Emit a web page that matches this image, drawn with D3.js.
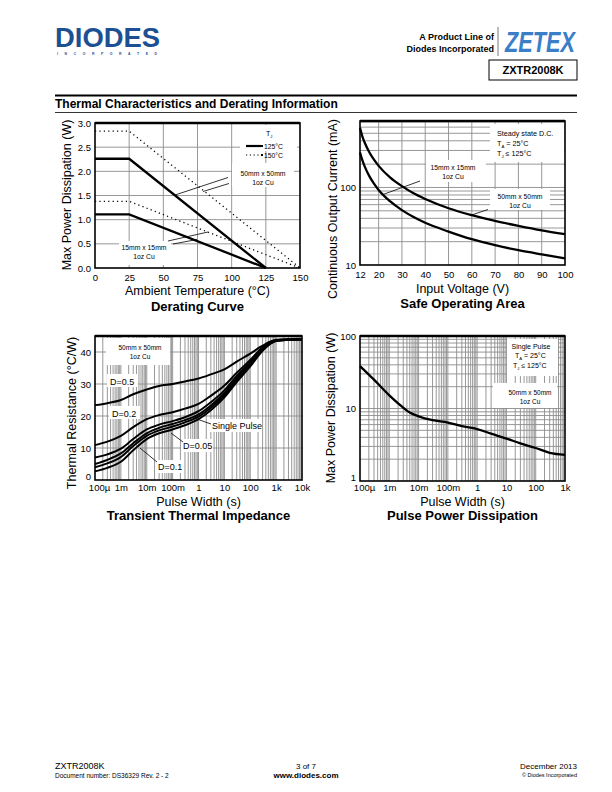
<!DOCTYPE html>
<html><head><meta charset="utf-8">
<script src="https://cdn.jsdelivr.net/npm/d3@7"></script>
<style>
body{margin:0;background:#fff}
svg{display:block}
text{font-family:"Liberation Sans",Arial,Helvetica,sans-serif;fill:#000}
</style>
</head><body>
<svg id="page" width="612" height="792"></svg>
<script>
// ---------------- DATA ----------------
// Derating curve
const derTemp125 = [0, 25, 125];
const derTemp150 = [0, 25, 150];
const der50x50_125 = [2.26, 2.26, 0];
const der50x50_150 = [2.83, 2.83, 0];
const der15x15_125 = [1.11, 1.11, 0];
const der15x15_150 = [1.38, 1.38, 0];
const derXTicks = [0, 25, 50, 75, 100, 125, 150];
const derYTicks = [0, 0.5, 1.0, 1.5, 2.0, 2.5, 3.0];

// Safe operating area
const soaVoltage = [12, 13, 14, 16, 18, 20, 25, 30, 35, 40, 50, 60, 70, 80, 90, 100];
const soa50x50 = [590, 456, 380, 285, 228, 190, 134, 104, 84, 71, 54, 44, 37, 32, 28, 25];
const soa15x15 = [283, 225, 187, 140, 112, 93, 66, 51, 41.5, 35, 27, 21.5, 18, 15.5, 13.7, 12.2];
const soaXTicks = [12, 20, 30, 40, 50, 60, 70, 80, 90, 100];
const soaYTicks = [10, 100];

// Transient thermal impedance
const ttiPulse = [1e-4, 3e-4, 1e-3, 3e-3, 1e-2, 3e-2, 1e-1, 3e-1, 1, 3, 10, 30, 100, 300, 1e3, 3e3, 1e4];
const ttiD05 = [23.4, 24.0, 25.0, 26.8, 28.3, 29.4, 30.0, 30.8, 31.7, 33.0, 34.6, 37.0, 39.5, 42.0, 43.8, 44.0, 44.1];
const ttiD02 = [10.9, 12.0, 13.8, 16.5, 19.0, 20.3, 21.2, 22.3, 23.8, 26.3, 29.5, 33.5, 37.5, 41.5, 43.7, 43.9, 44.0];
const ttiD01 = [7.0, 8.0, 9.8, 12.8, 15.8, 17.3, 18.4, 19.6, 21.5, 24.3, 28.0, 32.5, 36.8, 41.0, 43.6, 43.8, 44.0];
const ttiD005 = [5.0, 6.3, 8.3, 11.5, 14.6, 16.3, 17.5, 18.7, 20.5, 23.3, 27.2, 31.8, 36.3, 40.8, 43.5, 43.8, 44.0];
const ttiD002 = [4.0, 5.2, 7.2, 10.6, 13.8, 15.5, 16.7, 18.0, 19.8, 22.6, 26.5, 31.2, 35.9, 40.6, 43.5, 43.8, 44.0];
const ttiSingle = [2.7, 3.8, 5.7, 9.3, 12.8, 14.6, 15.8, 17.1, 19.0, 21.8, 25.8, 30.6, 35.5, 40.4, 43.4, 43.8, 44.0];
const ttiXTicks = [1e-4, 1e-3, 1e-2, 1e-1, 1, 10, 100, 1e3, 1e4];
const ttiXLabels = ["100µ", "1m", "10m", "100m", "1", "10", "100", "1k", "10k"];
const ttiYTicks = [0, 10, 20, 30, 40];

// Pulse power dissipation
const ppdPulse = [1e-4, 3e-4, 1e-3, 2e-3, 5e-3, 1e-2, 3e-2, 1e-1, 3e-1, 1, 3, 10, 30, 100, 300, 1e3];
const ppdPower = [38.5, 25, 15.2, 11.8, 8.8, 7.8, 6.9, 6.4, 5.7, 5.2, 4.5, 3.85, 3.3, 2.85, 2.45, 2.3];
const ppdXTicks = [1e-4, 1e-3, 1e-2, 1e-1, 1, 10, 100, 1e3];
const ppdXLabels = ["100µ", "1m", "10m", "100m", "1", "10", "100", "1k"];
const ppdYTicks = [1, 10, 100];

// ---------------- DRAWING ----------------
const svg = d3.select("#page");
const GRID = "#8c8c8c";
const FONT = '"Liberation Sans",Arial,sans-serif';

function logGrid(domain) {
  const out = [];
  const lo = Math.floor(Math.log10(domain[0])), hi = Math.ceil(Math.log10(domain[1]));
  for (let d = lo; d <= hi; d++) for (let k = 1; k <= 9; k++) {
    const v = k * Math.pow(10, d);
    if (v > domain[0] * 1.0001 && v < domain[1] * 0.9999) out.push(v);
  }
  return out;
}

function gridLines(g, x, y, xs, ys) {
  const [x0, x1] = x.range(), [y0, y1] = y.range();
  g.append("g").selectAll("line").data(xs).join("line")
    .attr("x1", d => x(d)).attr("x2", d => x(d)).attr("y1", y0).attr("y2", y1)
    .attr("stroke", GRID).attr("stroke-width", 0.9);
  g.append("g").selectAll("line").data(ys).join("line")
    .attr("x1", x0).attr("x2", x1).attr("y1", d => y(d)).attr("y2", d => y(d))
    .attr("stroke", GRID).attr("stroke-width", 0.9);
}

function whiteBox(g, x, y, w, h) {
  g.append("rect").attr("x", x).attr("y", y).attr("width", w).attr("height", h).attr("fill", "#fff");
}

function frame(g, x, y) {
  const [x0, x1] = x.range(), [y0, y1] = y.range();
  g.append("rect").attr("x", x0).attr("y", y1).attr("width", x1 - x0).attr("height", y0 - y1)
    .attr("fill", "none").attr("stroke", "#000").attr("stroke-width", 1.6);
  g.append("line").attr("x1", x0).attr("x2", x1).attr("y1", y1).attr("y2", y1)
    .attr("stroke", "#000").attr("stroke-width", 2.4);
}

function axes(g, x, y, xTicks, xFmt, yTicks, yFmt, xPad) {
  const ax = g.append("g").attr("transform", `translate(0,${y.range()[0]})`)
    .call(d3.axisBottom(x).tickValues(xTicks).tickSize(0).tickPadding(xPad || 6).tickFormat(xFmt));
  ax.select(".domain").remove();
  ax.selectAll("text").attr("font-size", 9.5).attr("font-family", FONT).attr("fill", "#000");
  const ay = g.append("g").attr("transform", `translate(${x.range()[0]},0)`)
    .call(d3.axisLeft(y).tickValues(yTicks).tickSize(0).tickPadding(4).tickFormat(yFmt));
  ay.select(".domain").remove();
  ay.selectAll("text").attr("font-size", 9.5).attr("font-family", FONT).attr("fill", "#000");
  return { ax, ay };
}

function titles(g, x, y, xt, yt, yx, yc, title, xtY, titleY) {
  const cx = (x.range()[0] + x.range()[1]) / 2;
  g.append("text").attr("x", cx).attr("y", xtY).attr("text-anchor", "middle").attr("font-size", 12.5).text(xt);
  g.append("text").attr("transform", `translate(${yx},${yc}) rotate(-90)`).attr("text-anchor", "middle").attr("font-size", 12.5).text(yt);
  g.append("text").attr("x", cx).attr("y", titleY).attr("text-anchor", "middle").attr("font-size", 13).attr("font-weight", "bold").text(title);
}

function small(g, x, y, txt, anchor, size) {
  return g.append("text").attr("x", x).attr("y", y).attr("text-anchor", anchor || "middle")
    .attr("font-size", size || 6.8).text(txt);
}

function subText(g, x, y, main, sub, rest, anchor, size) {
  size = size || 7;
  const t = g.append("text").attr("x", x).attr("y", y).attr("text-anchor", anchor || "start").attr("font-size", size);
  t.append("tspan").text(main);
  t.append("tspan").attr("font-size", size * 0.6).attr("dy", 2).text(sub);
  t.append("tspan").attr("dy", -2).text(rest);
  return t;
}

function pointer(g, x1, y1, x2, y2) {
  g.append("line").attr("x1", x1).attr("y1", y1).attr("x2", x2).attr("y2", y2)
    .attr("stroke", "#000").attr("stroke-width", 0.8);
}

function curve(g, xs, ys, x, y, dotted, cv) {
  const pts = xs.map((v, i) => [v, ys[i]]);
  const p = g.append("path").datum(pts)
    .attr("d", d3.line().x(d => x(d[0])).y(d => y(d[1])).curve(cv || d3.curveLinear))
    .attr("fill", "none").attr("stroke", "#000");
  if (dotted) p.attr("stroke-width", 1.3).attr("stroke-dasharray", "1.2,3.2");
  else p.attr("stroke-width", 2.3);
  return p;
}

// ---------- Header ----------
const hdr = svg.append("g");
hdr.append("text").attr("x", 55).attr("y", 47).attr("font-size", 27).attr("font-weight", "bold")
  .attr("textLength", 105).attr("lengthAdjust", "spacingAndGlyphs").style("fill", "#1d4f93").text("DIODES");
hdr.append("text").attr("x", 57).attr("y", 55).attr("font-size", 3.4).attr("font-weight", "bold")
  .attr("textLength", 100).attr("lengthAdjust", "spacing").style("fill", "#1d4f93").text("I N C O R P O R A T E D");
hdr.append("text").attr("x", 494).attr("y", 40).attr("text-anchor", "end").attr("font-size", 9).attr("font-weight", "bold").text("A Product Line of");
hdr.append("text").attr("x", 494).attr("y", 52).attr("text-anchor", "end").attr("font-size", 9).attr("font-weight", "bold").text("Diodes Incorporated");
hdr.append("line").attr("x1", 498).attr("x2", 498).attr("y1", 27).attr("y2", 56).attr("stroke", "#555").attr("stroke-width", 0.8);
hdr.append("text").attr("x", 505).attr("y", 52).attr("font-size", 30).attr("font-weight", "bold").attr("font-style", "italic")
  .attr("textLength", 70).attr("lengthAdjust", "spacingAndGlyphs").style("fill", "#3b7ec8").text("ZETEX");
hdr.append("rect").attr("x", 489).attr("y", 60).attr("width", 88).attr("height", 20).attr("fill", "none").attr("stroke", "#000").attr("stroke-width", 1);
hdr.append("text").attr("x", 533).attr("y", 74).attr("text-anchor", "middle").attr("font-size", 11).attr("font-weight", "bold").text("ZXTR2008K");
hdr.append("line").attr("x1", 55).attr("x2", 577).attr("y1", 95.5).attr("y2", 95.5).attr("stroke", "#000").attr("stroke-width", 2);
hdr.append("text").attr("x", 55).attr("y", 108).attr("font-size", 12).attr("font-weight", "bold").text("Thermal Characteristics and Derating Information");
hdr.append("line").attr("x1", 55).attr("x2", 577).attr("y1", 112.5).attr("y2", 112.5).attr("stroke", "#000").attr("stroke-width", 0.8);

// ---------- Chart 1: Derating ----------
{
  const g = svg.append("g");
  const x = d3.scaleLinear().domain([0, 150]).range([95, 300]);
  const y = d3.scaleLinear().domain([0, 3]).range([268, 123]);
  gridLines(g, x, y, derXTicks.slice(1, -1), derYTicks.slice(1, -1));
  whiteBox(g, 240, 125, 57, 26);
  whiteBox(g, 232, 163, 62, 24);
  whiteBox(g, 119, 241, 52, 24);
  curve(g, derTemp150, der50x50_150, x, y, true);
  curve(g, derTemp150, der15x15_150, x, y, true);
  curve(g, derTemp125, der50x50_125, x, y, false);
  curve(g, derTemp125, der15x15_125, x, y, false);
  frame(g, x, y);
  axes(g, x, y, derXTicks, d => d, derYTicks, d => d.toFixed(1));
  titles(g, x, y, "Ambient Temperature (°C)", "Max Power Dissipation (W)", 71, 195, "Derating Curve", 295, 311);
  // legend
  subText(g, 266, 136, "T", "J", "", "start", 7);
  g.append("line").attr("x1", 246).attr("x2", 261).attr("y1", 146).attr("y2", 146).attr("stroke", "#000").attr("stroke-width", 2.2);
  g.append("rect").attr("x", 261).attr("y", 145).attr("width", 2).attr("height", 2);
  small(g, 264, 148.5, "125°C", "start", 6.8);
  g.append("line").attr("x1", 246).attr("x2", 261).attr("y1", 155).attr("y2", 155).attr("stroke", "#000").attr("stroke-width", 1).attr("stroke-dasharray", "1.2,2.6");
  g.append("rect").attr("x", 261).attr("y", 154).attr("width", 2).attr("height", 2);
  small(g, 264, 157.5, "150°C", "start", 6.8);
  small(g, 263, 176, "50mm x 50mm");
  small(g, 263, 185, "1oz Cu");
  pointer(g, 175, 195, 228, 177.5);
  pointer(g, 203, 191.5, 229, 183.5);
  small(g, 144, 250, "15mm x 15mm");
  small(g, 144, 259, "1oz Cu");
  pointer(g, 168, 241, 208, 232);
  pointer(g, 173, 244, 197, 239.5);
}

// ---------- Chart 2: SOA ----------
{
  const g = svg.append("g");
  const x = d3.scaleLinear().domain([12, 100]).range([360, 565]);
  const y = d3.scaleLog().domain([10, 720]).range([265, 121]);
  gridLines(g, x, y, soaXTicks.slice(1, -1), logGrid(y.domain()));
  whiteBox(g, 490, 124, 74, 38);
  whiteBox(g, 426, 160, 60, 22);
  whiteBox(g, 490, 189, 60, 21);
  curve(g, soaVoltage, soa50x50, x, y, false, d3.curveMonotoneX);
  curve(g, soaVoltage, soa15x15, x, y, false, d3.curveMonotoneX);
  frame(g, x, y);
  axes(g, x, y, soaXTicks, d => d, soaYTicks, d => d);
  titles(g, x, y, "Input Voltage (V)", "Continuous Output Current (mA)", 337, 209, "Safe Operating Area", 293, 308);
  small(g, 497, 136, "Steady state D.C.", "start", 7.2);
  subText(g, 497, 145.5, "T", "A", " = 25°C", "start", 7.2);
  subText(g, 497, 155.5, "T", "J", " ≤ 125°C", "start", 7.2);
  small(g, 453, 170, "15mm x 15mm");
  small(g, 453, 179, "1oz Cu");
  pointer(g, 420, 181, 383, 194.5);
  small(g, 520, 199, "50mm x 50mm");
  small(g, 520, 208, "1oz Cu");
  pointer(g, 471.5, 215, 488, 209.5);
}

// ---------- Chart 3: Transient Thermal Impedance ----------
{
  const g = svg.append("g");
  const x = d3.scaleLog().domain([1e-4, 1e4]).range([95, 302]);
  const y = d3.scaleLinear().domain([0, 45]).range([480, 336]);
  gridLines(g, x, y, logGrid(x.domain()), [10, 20, 30, 40]);
  whiteBox(g, 106, 338, 64, 27);
  whiteBox(g, 107, 374, 31, 13);
  whiteBox(g, 109, 406, 31, 13);
  whiteBox(g, 209, 419, 53, 13);
  whiteBox(g, 181, 439, 32, 13);
  whiteBox(g, 155, 460, 27, 13);
  const cv = d3.curveMonotoneX;
  [ttiD05, ttiD02, ttiD01, ttiD005, ttiD002, ttiSingle].forEach(s => curve(g, ttiPulse, s, x, y, false, cv).attr("stroke-width", 2));
  frame(g, x, y);
  const a = axes(g, x, y, ttiXTicks, (d, i) => ttiXLabels[i], ttiYTicks, d => d, 4);
  a.ax.selectAll("text").filter((d, i) => i === 0).attr("dx", 4);
  a.ay.selectAll("text").filter(d => d === 0).attr("dy", "-0.1em");
  titles(g, x, y, "Pulse Width (s)", "Thermal Resistance (°C/W)", 76, 413, "Transient Thermal Impedance", 506, 520);
  small(g, 140, 350, "50mm x 50mm", "middle", 6.5);
  small(g, 140, 359, "1oz Cu", "middle", 6.5);
  small(g, 110, 385, "D=0.5", "start", 9);
  small(g, 112, 417, "D=0.2", "start", 9);
  small(g, 212, 429, "Single Pulse", "start", 9);
  small(g, 183, 449, "D=0.05", "start", 9);
  small(g, 158, 470, "D=0.1", "start", 9);
  pointer(g, 211, 424, 194, 418);
  pointer(g, 183, 442, 171, 433);
  pointer(g, 157, 462, 140, 448);
}

// ---------- Chart 4: Pulse Power Dissipation ----------
{
  const g = svg.append("g");
  const x = d3.scaleLog().domain([1e-4, 1e3]).range([360, 565]);
  const y = d3.scaleLog().domain([1, 100]).range([481, 336]);
  gridLines(g, x, y, logGrid(x.domain()), logGrid(y.domain()));
  whiteBox(g, 507, 339, 51, 37);
  whiteBox(g, 493, 383, 64, 25);
  curve(g, ppdPulse, ppdPower, x, y, false, d3.curveMonotoneX);
  frame(g, x, y);
  const a = axes(g, x, y, ppdXTicks, (d, i) => ppdXLabels[i], ppdYTicks, d => d, 3.5);
  a.ax.selectAll("text").filter((d, i) => i === 0).attr("dx", 4);
  a.ay.selectAll("text").filter(d => d === 1).attr("dy", "-0.1em");
  titles(g, x, y, "Pulse Width (s)", "Max Power Dissipation (W)", 335, 408, "Pulse Power Dissipation", 506, 520);
  small(g, 531, 348.5, "Single Pulse", "middle", 7);
  subText(g, 515, 358, "T", "A", " = 25°C", "start", 7);
  subText(g, 513, 367.5, "T", "J", " ≤ 125°C", "start", 7);
  small(g, 530, 395, "50mm x 50mm", "middle", 6.5);
  small(g, 530, 404, "1oz Cu", "middle", 6.5);
}

// ---------- Footer ----------
const ft = svg.append("g");
ft.append("text").attr("x", 55).attr("y", 769).attr("font-size", 9).text("ZXTR2008K");
ft.append("text").attr("x", 55).attr("y", 777.5).attr("font-size", 6.5).text("Document number: DS36329 Rev. 2 - 2");
ft.append("text").attr("x", 306).attr("y", 768.5).attr("text-anchor", "middle").attr("font-size", 8).text("3 of 7");
ft.append("text").attr("x", 306).attr("y", 777.5).attr("text-anchor", "middle").attr("font-size", 8).attr("font-weight", "bold").text("www.diodes.com");
ft.append("text").attr("x", 577).attr("y", 769).attr("text-anchor", "end").attr("font-size", 8).text("December 2013");
ft.append("text").attr("x", 577).attr("y", 777).attr("text-anchor", "end").attr("font-size", 5.5).text("© Diodes Incorporated");
</script>
</body></html>
